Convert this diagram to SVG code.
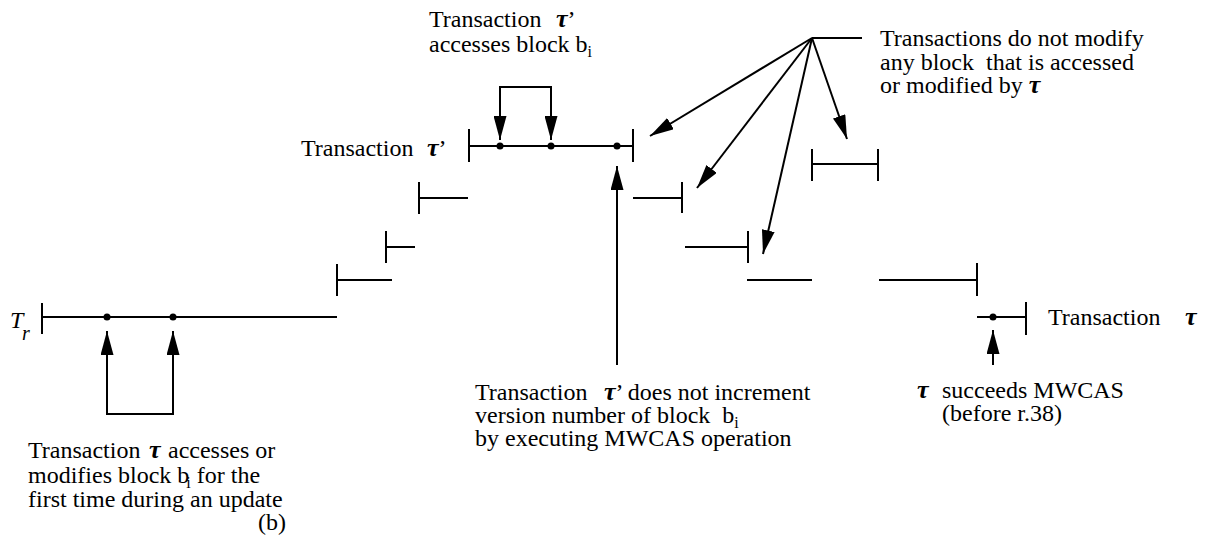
<svg xmlns="http://www.w3.org/2000/svg" width="1208" height="546" viewBox="0 0 1208 546">
  <style>
    .ln { stroke: #000; stroke-width: 2; fill: none; }
    .dot { fill: #000; }
    text { font-family: 'Liberation Serif', 'Times New Roman', 'DejaVu Serif', serif; font-size: 24px; fill: #000; }
    .tau { font-weight: bold; font-style: italic; font-size: 26px; }
    .sub { font-size: 16px; }
    .arr { stroke: #000; stroke-width: 2; fill: none; marker-end: url(#ah); }
  </style>
  <defs>
    <marker id="ah" viewBox="0 0 24 13" refX="24" refY="6.5" markerWidth="24" markerHeight="13" markerUnits="userSpaceOnUse" orient="auto">
      <path d="M0,0 L24,6.5 L0,13 z" fill="#000"/>
    </marker>
  </defs>
  <rect width="1208" height="546" fill="#fff"/>

  <g font-family="Liberation Serif, Times New Roman, serif" font-size="24">

  <!-- reader transaction T_r -->
  <g id="tr">
    <path class="ln" d="M42,303 V334 M42,317 H337"/>
    <circle class="dot" cx="107" cy="317" r="3.5"/>
    <circle class="dot" cx="173" cy="317" r="3.5"/>
    <text x="10" y="328" font-style="italic">T</text>
    <text x="22" y="340" font-style="italic" style="font-size:20px">r</text>
  </g>

  <!-- staircase of overlapping transactions -->
  <g id="seg-c"><path class="ln" d="M337,264 V296 M337,280 H392"/></g>
  <g id="seg-b"><path class="ln" d="M386,231 V263 M386,247 H415"/></g>
  <g id="seg-a"><path class="ln" d="M419,182 V214 M419,198 H468"/></g>

  <!-- transaction tau' -->
  <g id="tau-prime">
    <path class="ln" d="M469,129 V162 M633,129 V162 M469,146 H633"/>
    <circle class="dot" cx="500" cy="146" r="3.5"/>
    <circle class="dot" cx="551" cy="146" r="3.5"/>
    <circle class="dot" cx="617" cy="146" r="3.5"/>
    <text x="301" y="156">Transaction<tspan class="tau" x="427">τ</tspan><tspan>’</tspan></text>
  </g>

  <g id="seg-d"><path class="ln" d="M812,149 V181 M878,149 V181 M812,164 H878"/></g>
  <g id="seg-e"><path class="ln" d="M633,198 H682 M682,182 V213"/></g>
  <g id="seg-f"><path class="ln" d="M685,247 H748 M748,231 V263"/></g>
  <g id="seg-g"><path class="ln" d="M747,280 H812"/></g>
  <g id="seg-h"><path class="ln" d="M879,280 H977 M977,263 V296"/></g>

  <!-- transaction tau -->
  <g id="tau">
    <path class="ln" d="M977,317 H1026 M1026,302 V335"/>
    <circle class="dot" cx="993" cy="317" r="3.5"/>
    <text x="1048" y="325">Transaction<tspan class="tau" x="1185">τ</tspan></text>
  </g>

  <!-- connectors -->
  <g id="connectors">
    <path class="arr" d="M140,414 H107 V331"/>
    <path class="arr" d="M140,414 H173 V331"/>
    <path class="arr" d="M525,87 H500 V140"/>
    <path class="arr" d="M525,87 H551 V140"/>
    <path class="arr" d="M617,365 V166"/>
    <path class="arr" d="M993,365 V330"/>
    <path class="ln" d="M812,38 H862"/>
    <path class="arr" d="M812,38 L650,136"/>
    <path class="arr" d="M812,38 L697,188"/>
    <path class="arr" d="M812,38 L763,254"/>
    <path class="arr" d="M812,38 L847,139"/>
  </g>

  <!-- annotations -->
  <g id="label-access">
    <text x="429" y="27">Transaction<tspan class="tau" x="556">τ</tspan><tspan>’</tspan></text>
    <text x="429" y="52">accesses block b<tspan class="sub" dy="5">i</tspan></text>
  </g>

  <g id="label-nomodify">
    <text x="880" y="46">Transactions do not modify</text>
    <text x="880" y="70">any block&#160; that is accessed</text>
    <text x="880" y="93">or modified by <tspan class="tau">τ</tspan></text>
  </g>

  <g id="label-version">
    <text x="475" y="400">Transaction<tspan class="tau" x="604">τ</tspan><tspan>’ does not increment</tspan></text>
    <text x="475" y="423">version number of block&#160; b<tspan class="sub" dy="5">i</tspan></text>
    <text x="475" y="446">by executing MWCAS operation</text>
  </g>

  <g id="label-mwcas">
    <text x="917" y="398"><tspan class="tau">τ</tspan><tspan x="942">succeeds MWCAS</tspan></text>
    <text x="942" y="421">(before r.38)</text>
  </g>

  <g id="label-first">
    <text x="28" y="458">Transaction<tspan class="tau" x="149">τ</tspan><tspan x="168">accesses or</tspan></text>
    <text x="28" y="483">modifies block b<tspan class="sub" dx="-3" dy="5">i</tspan><tspan dy="-5"> for the</tspan></text>
    <text x="28" y="507">first time during an update</text>
  </g>

  <text id="caption" x="258" y="530">(b)</text>
  </g>
</svg>
